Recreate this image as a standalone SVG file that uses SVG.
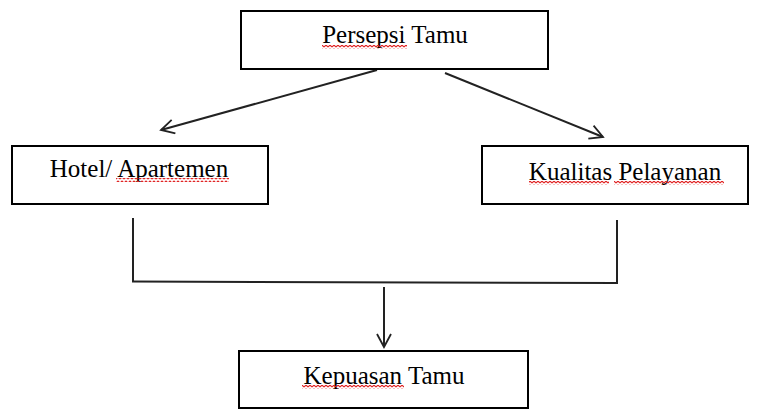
<svg xmlns="http://www.w3.org/2000/svg" width="760" height="410" viewBox="0 0 760 410">
<style>
.box{fill:#fff;stroke:#000;stroke-width:2}
.lbl{font-family:"Liberation Serif","Times New Roman",serif;font-size:25px;fill:#000;text-anchor:middle}
.ln{fill:none;stroke:#222;stroke-width:2}
.wave{fill:url(#wv)}
</style>
<defs>
<marker id="ah" viewBox="0 0 16 16" refX="14" refY="8" markerWidth="16" markerHeight="16" markerUnits="userSpaceOnUse" orient="auto">
<path d="M1,1 L14,8 L1,15" fill="none" stroke="#222" stroke-width="1.8"/>
</marker>
<pattern id="wv" width="4" height="4" patternUnits="userSpaceOnUse">
<path d="M0,3 L2,1 L4,3" fill="none" stroke="#e02020" stroke-width="1.1"/>
</pattern>
</defs>
<g id="connectors">
<line class="ln" x1="377" y1="70" x2="161" y2="130" marker-end="url(#ah)"/>
<line class="ln" x1="445" y1="73" x2="603" y2="137" marker-end="url(#ah)"/>
<line class="ln" x1="133" y1="218" x2="133" y2="282"/>
<line class="ln" x1="617" y1="220" x2="617" y2="284"/>
<line class="ln" x1="132" y1="281.5" x2="617" y2="283"/>
<line class="ln" x1="384" y1="287" x2="384" y2="347" marker-end="url(#ah)"/>
</g>
<g id="persepsi">
<rect class="box" x="241" y="11" width="307" height="58"/>
<text class="lbl" x="395" y="43">Persepsi Tamu</text>
<rect class="wave" x="322" y="45" width="85" height="4"/>
</g>
<g id="hotel">
<rect class="box" x="12" y="146" width="256" height="58"/>
<text class="lbl" x="139" y="177">Hotel/ Apartemen</text>
<rect class="wave" x="116" y="178" width="113" height="4"/>
</g>
<g id="kualitas">
<rect class="box" x="482" y="146" width="266" height="58"/>
<text class="lbl" x="625" y="180">Kualitas Pelayanan</text>
<rect class="wave" x="529" y="181" width="80" height="4"/>
<rect class="wave" x="614" y="181" width="110" height="4"/>
</g>
<g id="kepuasan">
<rect class="box" x="239" y="351" width="289" height="57"/>
<text class="lbl" x="384" y="384">Kepuasan Tamu</text>
<rect class="wave" x="302" y="385" width="102" height="4"/>
</g>
</svg>
